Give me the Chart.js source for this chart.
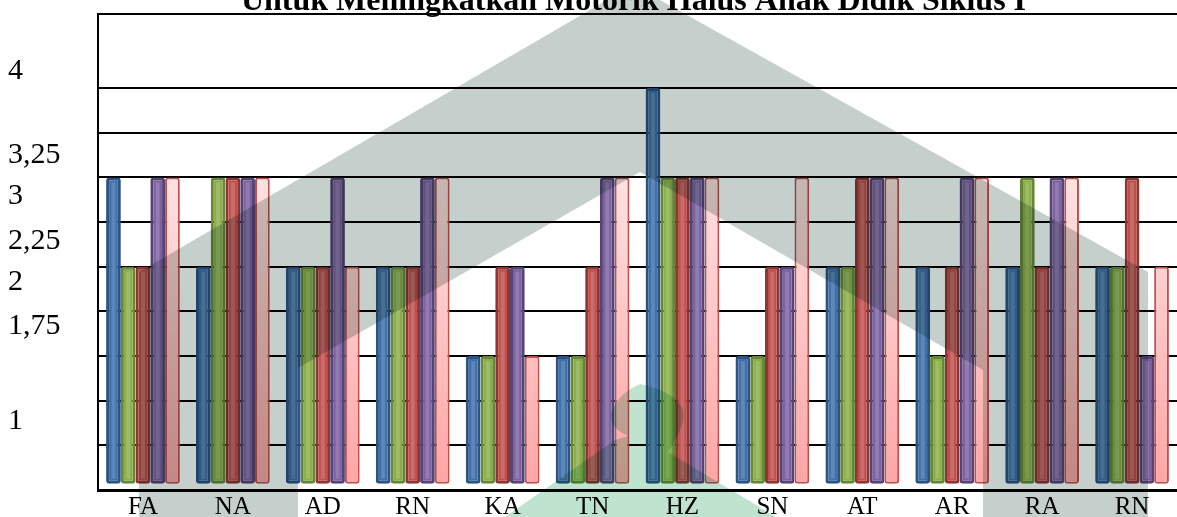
<!DOCTYPE html>
<html>
<head>
<meta charset="utf-8">
<script src="https://cdn.jsdelivr.net/npm/chart.js@4.4.1/dist/chart.umd.min.js"></script>
<style>
  html, body { margin: 0; padding: 0; background: #fff; overflow: hidden; }
  #wrap { position: relative; width: 1177px; height: 517px; }
</style>
</head>
<body>
<div id="wrap"><canvas id="c"></canvas></div>
<script>
// Scores per child (Siklus I)
const categories = ['FA', 'NA', 'AD', 'RN', 'KA', 'TN', 'HZ', 'SN', 'AT', 'AR', 'RA', 'RN'];
const aspek1 = [3, 2, 2, 2, 1, 1, 4, 1, 2, 2, 2, 2];
const aspek2 = [2, 3, 2, 2, 1, 1, 3, 1, 2, 1, 3, 2];
const aspek3 = [2, 3, 2, 2, 2, 2, 3, 2, 3, 2, 2, 3];
const aspek4 = [3, 3, 3, 3, 2, 3, 3, 2, 3, 3, 3, 1];
const aspek5 = [3, 3, 2, 3, 1, 3, 3, 3, 3, 3, 3, 2];

// Left-hand score labels and the axis values they sit beside
const yTickLabels = ['4', '3,25', '3', '2,25', '2', '1,75', '1'];
const yTickAnchors = [4.19, 3.25, 2.79, 2.29, 1.83, 1.34, 0.27];

const chartTitle = 'Untuk Meningkatkan Motorik Halus Anak Didik Siklus I';

const SERIF = '"Liberation Serif", "Times New Roman", serif';
const BAR_BASE = -0.43;

function pinkFill(ctx) {
  const area = ctx.chart.chartArea;
  if (!area) return '#ffc4c4';
  const g = ctx.chart.ctx.createLinearGradient(0, area.top + 150, 0, area.bottom);
  g.addColorStop(0, '#ffe4e4');
  g.addColorStop(1, '#ffa4a4');
  return g;
}

function barSet(label, data, fill, border, width) {
  return {
    label, data,
    backgroundColor: fill,
    borderColor: border,
    borderWidth: width,
    borderRadius: 3,
    borderSkipped: false,
    base: BAR_BASE,
    categoryPercentage: 0.82,
    barPercentage: 1.0
  };
}

// white page background
const paper = {
  id: 'paper',
  beforeDraw(chart) {
    const c = chart.ctx;
    c.save();
    c.fillStyle = '#fff';
    c.fillRect(0, 0, chart.width, chart.height);
    c.restore();
  }
};

// light centre stripe on the solid bars
const sheen = {
  id: 'sheen',
  afterDatasetsDraw(chart) {
    const c = chart.ctx;
    c.save();
    chart.data.datasets.forEach((ds, di) => {
      if (di === 4) return;
      const meta = chart.getDatasetMeta(di);
      meta.data.forEach(el => {
        const p = el.getProps(['x', 'y', 'base', 'width'], true);
        c.fillStyle = 'rgba(255,255,255,0.16)';
        c.fillRect(p.x - 2, p.y + 5, 4, p.base - p.y - 10);
      });
    });
    c.restore();
  }
};

// title and the left score labels
const texts = {
  id: 'texts',
  afterDraw(chart) {
    const c = chart.ctx;
    const area = chart.chartArea;
    const ys = chart.scales.y;
    c.save();
    c.fillStyle = '#000';
    c.font = 'bold 32px ' + SERIF;
    c.textAlign = 'center';
    c.textBaseline = 'alphabetic';
    c.fillText(chartTitle, (area.left + area.right) / 2 - 4, 10);

    c.font = '30px ' + SERIF;
    c.textAlign = 'left';
    c.textBaseline = 'middle';
    yTickLabels.forEach((t, i) => {
      c.fillText(t, 8, ys.getPixelForValue(yTickAnchors[i]));
    });
    c.restore();
  }
};

// faint logo watermark laid over the page
const watermark = {
  id: 'watermark',
  afterDraw(chart) {
    const c = chart.ctx;
    c.save();
    c.globalCompositeOperation = 'multiply';

    c.fillStyle = 'rgb(197,208,204)';
    c.beginPath();
    c.moveTo(139, 517);
    c.lineTo(139, 272);
    c.lineTo(633, -15);
    c.lineTo(1148, 272);
    c.lineTo(1148, 517);
    c.lineTo(983, 517);
    c.lineTo(983, 370);
    c.lineTo(640, 172);
    c.lineTo(298, 368);
    c.lineTo(298, 517);
    c.closePath();
    c.fill();

    c.fillStyle = 'rgb(190,228,208)';
    c.beginPath();
    c.moveTo(505, 517);
    c.lineTo(615, 440);
    c.lineTo(628, 436);
    c.quadraticCurveTo(604, 425, 613, 408);
    c.quadraticCurveTo(622, 391, 640, 384);
    c.quadraticCurveTo(692, 396, 682, 425);
    c.quadraticCurveTo(676, 441, 668, 452);
    c.lineTo(776, 517);
    c.closePath();
    c.fill();
    c.restore();
  }
};

new Chart(document.getElementById('c'), {
  type: 'bar',
  data: {
    labels: categories,
    datasets: [
      barSet('Aspek 1', aspek1, '#3f70a9', '#2c5384', 3),
      barSet('Aspek 2', aspek2, '#8cae4a', '#66873a', 3),
      barSet('Aspek 3', aspek3, '#c0504d', '#8d3634', 3),
      barSet('Aspek 4', aspek4, '#7c62a0', '#574476', 3),
      barSet('Aspek 5', aspek5, pinkFill, '#c0504d', 2)
    ]
  },
  options: {
    responsive: true,
    maintainAspectRatio: false,
    animation: false,
    layout: { padding: { top: 14, left: 0, right: 0, bottom: 0 } },
    plugins: {
      legend: { display: false },
      tooltip: { enabled: false },
      title: { display: false }
    },
    scales: {
      x: {
        grid: { display: false, drawTicks: false },
        border: { color: '#000', width: 3 },
        ticks: {
          color: '#000',
          font: { family: SERIF, size: 25 },
          padding: 2,
          autoSkip: false,
          maxRotation: 0
        },
        afterFit(s) { s.height = 27; }
      },
      y: {
        min: -0.5,
        max: 4.83,
        ticks: { display: false, stepSize: 0.5 },
        grid: {
          drawTicks: false,
          lineWidth: 2,
          color(ctx) {
            const v = ctx.tick ? ctx.tick.value : 0;
            return Math.abs(v - 4.5) < 1e-6 ? 'rgba(0,0,0,0)' : '#000';
          }
        },
        border: { color: '#000', width: 2 },
        afterFit(s) { s.width = 98; }
      }
    }
  },
  plugins: [paper, sheen, texts, watermark]
});
</script>
</body>
</html>
